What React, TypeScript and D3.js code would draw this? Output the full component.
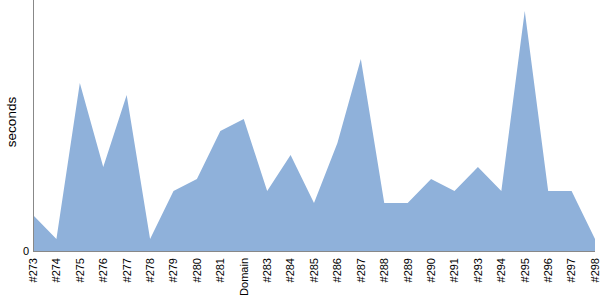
import React from "react";
import * as d3 from "d3";

const categories = ["#273","#274","#275","#276","#277","#278","#279","#280","#281","Domain","#283","#284","#285","#286","#287","#288","#289","#290","#291","#293","#294","#295","#296","#297","#298"];
const values = [3,1,14,7,13,1,5,6,10,11,5,8,4,9,16,4,4,6,5,7,5,20,5,5,1];
const yTicks = [0];

export default function App() {
  const W = 600, H = 300;
  const left = 33, right = 595, top = 0, bottom = 251;
  const x = d3.scalePoint<string>().domain(categories).range([left, right]);
  const y = d3.scaleLinear().domain([0, 20 * 251 / 240]).range([bottom, top]);
  const area = d3.area<number>()
    .x((_, i) => x(categories[i]) as number)
    .y0(bottom)
    .y1(d => y(d));
  const font = "'Liberation Sans', Arial, sans-serif";
  return (
    <svg width={W} height={H} style={{ position: "absolute", left: 0, top: 0 }} fontFamily={font}>
      <path d={area(values) || ""} fill="#8fb1da" />
      <line x1={left + 0.5} x2={left + 0.5} y1={top} y2={bottom} stroke="#888" />
      <line x1={left} x2={right} y1={bottom + 0.5} y2={bottom + 0.5} stroke="#888" />
      {yTicks.map(t => (
        <text key={t} x={left - 4} y={y(t)} dy="0.35em" textAnchor="end" fontSize={11} fill="#000">{t}</text>
      ))}
      <text transform={`translate(11,${122}) rotate(-90)`} textAnchor="middle" fontSize={13.5} dy="0.35em">seconds</text>
      {categories.map(c => (
        <text key={c} transform={`translate(${x(c)},${bottom + 7}) rotate(-90)`} textAnchor="end" dy="0.35em" fontSize={11} fill="#000">{c}</text>
      ))}
    </svg>
  );
}
